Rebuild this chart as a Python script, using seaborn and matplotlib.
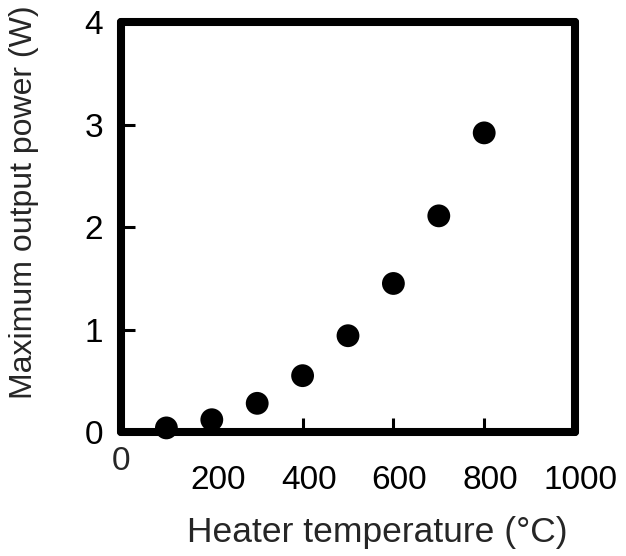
import numpy as np
import pandas as pd
import matplotlib
matplotlib.use('Agg')
import matplotlib.pyplot as plt
import matplotlib.transforms as mtransforms
import seaborn as sns

# Temperatura do aquecedor e potencia maxima
heater_temp = [100, 200, 300, 400, 500, 600, 700, 800]
max_power = [0.04, 0.12, 0.28, 0.55, 0.94, 1.45, 2.11, 2.92]

df = pd.DataFrame({'temp': heater_temp, 'power': max_power})

sns.set_style('white')
plt.rcParams['font.family'] = ['Liberation Sans', 'DejaVu Sans']

fig = plt.figure(figsize=(6.26, 5.56), dpi=100)
ax = fig.add_axes([121 / 626, 0.223, 454 / 626, 0.737])

sns.scatterplot(x='temp', y='power', data=df, ax=ax, color='black',
                s=270, edgecolor='none', zorder=3, clip_on=False)

ax.set_xlim(0, 1000)
ax.set_ylim(0, 4)

# Eixo x: 0 separado, o resto mais abaixo
ax.set_xticks([200, 400, 600, 800, 1000])
ax.set_xticklabels(['200', '400', '600', '800', '1000'])
ax.set_yticks([0, 1, 2, 3, 4])
ax.tick_params(axis='x', direction='in', length=10, width=2.2, pad=24,
               labelsize=24, colors='black', bottom=True)
ax.tick_params(axis='y', direction='in', length=10, width=2.2, pad=13,
               labelsize=24, colors='black', left=True)
shift = mtransforms.ScaledTranslation(6 / 100, 0, fig.dpi_scale_trans)
for lab in ax.get_xticklabels():
    lab.set_transform(lab.get_transform() + shift)
ax.text(0, -0.035, '0', transform=ax.transAxes, ha='center', va='top',
        fontsize=24)

for sp in ax.spines.values():
    sp.set_linewidth(5.8)
    sp.set_color('black')
    sp.set_capstyle('round')

ax.set_xlabel('Heater temperature (°C)', fontsize=25.5)
ax.set_ylabel('Maximum output power (W)', fontsize=23)
ax.xaxis.set_label_coords(0.565, -0.205)
ax.yaxis.set_label_coords(-0.18, 0.56)

fig.savefig('out.png', dpi=100, facecolor='white')
